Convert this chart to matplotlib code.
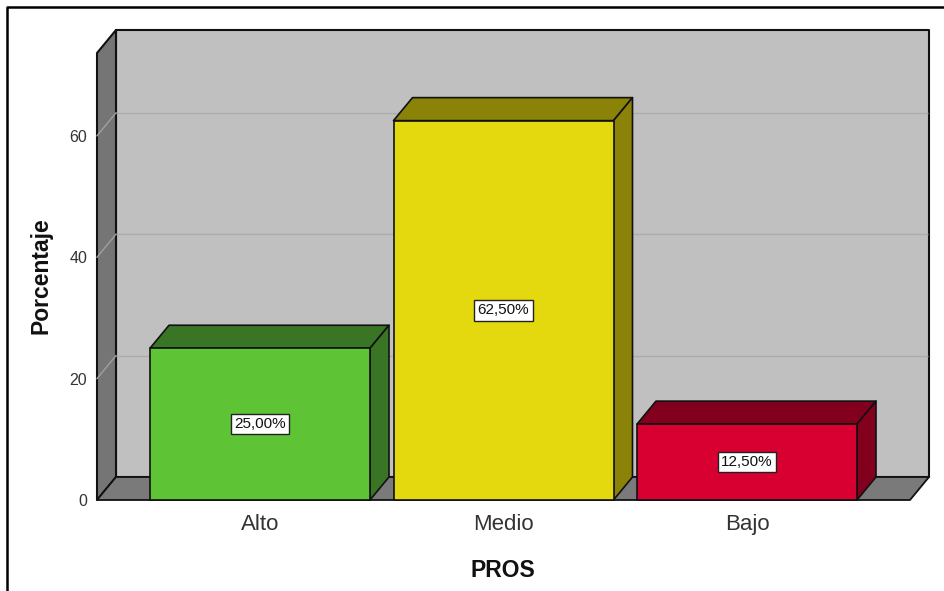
import matplotlib
matplotlib.use("Agg")
import matplotlib.pyplot as plt
from matplotlib.patches import Polygon

categories = ["Alto", "Medio", "Bajo"]
values = [25.0, 62.5, 12.5]
value_labels = ["25,00%", "62,50%", "12,50%"]
front_colors = ["#5EC435", "#E4D80E", "#D70030"]
side_colors = ["#3A7525", "#8B8208", "#82001D"]
y_ticks = [0, 20, 40, 60]

W, H = 945, 591
plt.rcParams["font.family"] = ["Liberation Sans", "DejaVu Sans"]

fig = plt.figure(figsize=(W / 100, H / 100), dpi=100)
fig.patch.set_facecolor("white")

# front plane of the 3d box, in figure pixels
left, right, bottom, top = 97, 910, 500, 53
ax = fig.add_axes([left / W, 1 - bottom / H, (right - left) / W, (bottom - top) / H])
ax.patch.set_visible(False)
for s in ax.spines.values():
    s.set_visible(False)

px_per_cat = 243.5
px_per_val = 6.07
ax.set_xlim((left - 260) / px_per_cat, (right - 260) / px_per_cat)
ax.set_ylim(0, (bottom - top) / px_per_val)

# depth of the extrusion converted to data units
dx = 19 / px_per_cat
dy = 23 / px_per_val
bar_w = 220 / px_per_cat
x0, x1 = ax.get_xlim()
y0, y1 = ax.get_ylim()


def poly(pts, fc, ec="#111111", lw=1.2, z=1):
    ax.add_patch(Polygon(pts, closed=True, facecolor=fc, edgecolor=ec, linewidth=lw,
                         zorder=z, clip_on=False, joinstyle="round"))


# back wall
poly([(x0 + dx, y0 + dy), (x1 + dx, y0 + dy), (x1 + dx, y1 + dy), (x0 + dx, y1 + dy)], "#C0C0C0", lw=1.5)
# left wall
poly([(x0, y0), (x0 + dx, y0 + dy), (x0 + dx, y1 + dy), (x0, y1)], "#757575", lw=1.5)
# floor
poly([(x0, y0), (x1, y0), (x1 + dx, y0 + dy), (x0 + dx, y0 + dy)], "#7A7A7A", lw=1.3)

# gridlines run along the left wall and across the back wall
for t in y_ticks[1:]:
    ax.plot([x0, x0 + dx], [t, t + dy], color="#A0A0A0", lw=1.0, zorder=2, clip_on=False)
    ax.plot([x0 + dx, x1 + dx - 0.004], [t + dy, t + dy], color="#ACACAC", lw=1.0, zorder=2,
            clip_on=False, solid_capstyle="butt")

for i, (v, fc, sc, lab) in enumerate(zip(values, front_colors, side_colors, value_labels)):
    a, b = i - bar_w / 2, i + bar_w / 2
    poly([(a, v), (b, v), (b + dx, v + dy), (a + dx, v + dy)], sc, z=3)
    poly([(b, 0), (b + dx, dy), (b + dx, v + dy), (b, v)], sc, z=3)
    poly([(a, 0), (b, 0), (b, v), (a, v)], fc, z=4)
    ax.text(i, v / 2, lab, ha="center", va="center", fontsize=11, color="#111111", zorder=5,
            bbox=dict(boxstyle="square,pad=0.22", facecolor="white", edgecolor="#222222", linewidth=1.0))

ax.set_xticks(range(len(categories)))
ax.set_xticklabels(categories, fontsize=16, color="#333333")
ax.set_yticks(y_ticks)
ax.set_yticklabels([str(t) for t in y_ticks], fontsize=11.5, color="#333333")
ax.tick_params(axis="both", length=0)
ax.tick_params(axis="x", pad=10)
ax.tick_params(axis="y", pad=7)

ax.set_xlabel("PROS", fontsize=16.5, fontweight="bold", color="#111111")
ax.set_ylabel("Porcentaje", fontsize=16.5, fontweight="bold", color="#111111")
ax.xaxis.set_label_coords((503 - left) / (right - left), -0.132)
ax.yaxis.set_label_coords((52 - left) / (right - left), (bottom - 276) / (bottom - top))

# outer frame, only top and left edges show
fig.add_artist(plt.Line2D([7 / W, 7 / W, 1], [0, 1 - 6.5 / H, 1 - 6.5 / H], color="black", lw=1.8,
                          transform=fig.transFigure))

fig.savefig("out.png", dpi=100)
